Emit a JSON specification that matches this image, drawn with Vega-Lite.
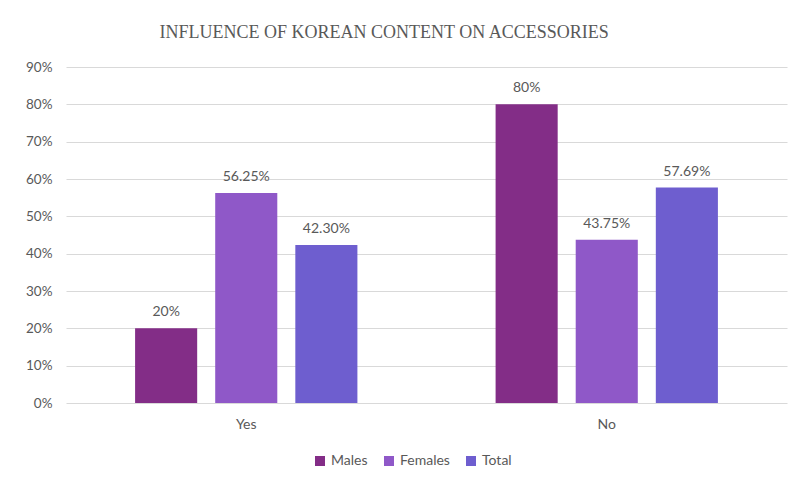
{
  "$schema": "https://vega.github.io/schema/vega-lite/v6.json",
  "width": 721,
  "height": 336,
  "autosize": {"type": "none"},
  "padding": {"left": 66, "top": 67, "right": 6, "bottom": 81},
  "background": "white",
  "title": {
    "text": "INFLUENCE OF KOREAN CONTENT ON ACCESSORIES",
    "font": "Liberation Serif",
    "fontSize": 18,
    "fontWeight": "normal",
    "color": "#595959",
    "anchor": "start",
    "dx": 134,
    "offset": 18
  },
  "data": {
    "values": [
      {"answer": "Yes", "group": "Males", "value": 0.20, "label": "20%"},
      {"answer": "Yes", "group": "Females", "value": 0.5625, "label": "56.25%"},
      {"answer": "Yes", "group": "Total", "value": 0.423, "label": "42.30%"},
      {"answer": "No", "group": "Males", "value": 0.80, "label": "80%"},
      {"answer": "No", "group": "Females", "value": 0.4375, "label": "43.75%"},
      {"answer": "No", "group": "Total", "value": 0.5769, "label": "57.69%"}
    ]
  },
  "encoding": {
    "x": {
      "field": "answer", "type": "nominal", "sort": ["Yes", "No"],
      "scale": {"paddingInner": 0, "paddingOuter": 0},
      "axis": {"title": null, "labelAngle": 0, "domain": false, "ticks": false, "labelPadding": 14, "labelFont": "Lato", "labelFontSize": 14, "labelColor": "#595959"}
    },
    "xOffset": {
      "field": "group", "type": "nominal", "sort": ["Males", "Females", "Total"],
      "scale": {"paddingInner": 0.225, "paddingOuter": 0.8625}
    },
    "y": {
      "field": "value", "type": "quantitative",
      "scale": {"domain": [0, 0.9], "nice": false},
      "axis": {"title": null, "format": ".0%", "values": [0,0.1,0.2,0.3,0.4,0.5,0.6,0.7,0.8,0.9], "domain": false, "ticks": false, "labelPadding": 14, "labelFont": "Lato", "labelFontSize": 13.5, "labelColor": "#595959", "gridColor": "#d9d9d9", "gridWidth": 1}
    }
  },
  "layer": [
    {
      "mark": {"type": "bar"},
      "encoding": {
        "color": {
          "field": "group", "type": "nominal", "sort": ["Males", "Females", "Total"],
          "scale": {"domain": ["Males", "Females", "Total"], "range": ["#832D87", "#8F58C8", "#6E5ECF"]},
          "legend": {"title": null, "orient": "none", "legendX": 247, "legendY": 387, "direction": "horizontal", "symbolType": "square", "symbolSize": 100, "symbolStrokeWidth": 0, "labelFont": "Lato", "labelFontSize": 14, "labelColor": "#595959", "columnPadding": 14}
        }
      }
    },
    {
      "mark": {"type": "text", "baseline": "bottom", "dy": -9, "font": "Lato", "fontSize": 14, "color": "#595959"},
      "encoding": {"text": {"field": "label"}}
    }
  ],
  "config": {"view": {"stroke": null}}
}
